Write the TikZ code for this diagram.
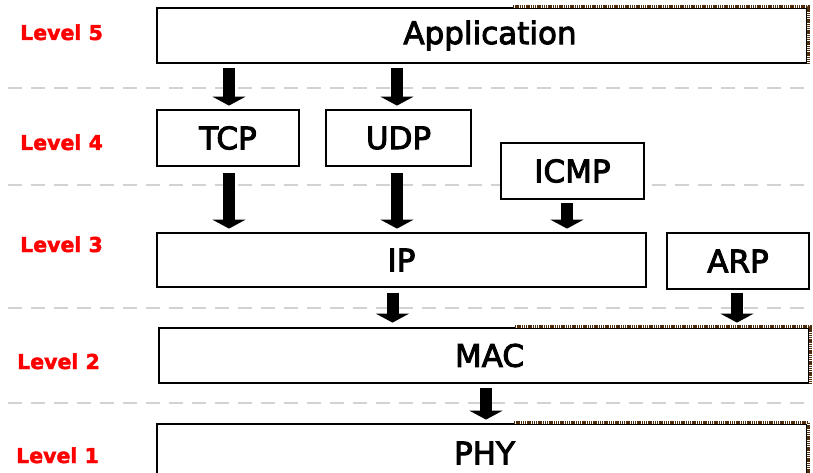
\documentclass[tikz,border=0pt]{standalone}
\usepackage{fontspec}
\usetikzlibrary{arrows.meta}
\newfontfamily\boxfont[FakeBold=3]{DejaVu Sans}
\newfontfamily\lvlfont[FakeBold=2]{DejaVu Sans Bold}
\definecolor{lvlred}{RGB}{255,0,0}
\definecolor{sepgray}{RGB}{210,210,210}
\definecolor{edgebrown}{RGB}{80,45,10}
\tikzset{
  layerbox/.style={draw=black, line width=2.8pt, fill=white, inner sep=0pt,
    font=\boxfont\fontsize{31}{36}\selectfont},
  lvl/.style={anchor=base west, inner sep=0pt, text=lvlred,
    font=\lvlfont\fontsize{20.5}{24}\selectfont},
  sepline/.style={draw=sepgray, line width=1.5pt, dash pattern=on 14pt off 9pt},
  bigarrow/.style={line width=12pt, -{Triangle[width=33pt,length=9pt]},
    shorten <=4pt, shorten >=3pt},
  brownedge/.style={draw=edgebrown, line width=2.4pt, dash pattern=on 1.4pt off 0.8pt},
  eraseedge/.style={draw=white, line width=3.2pt},
}
\begin{document}
\begin{tikzpicture}[x=1pt, y=-1pt]
\useasboundingbox (0,0) rectangle (813,473);

% dashed level separators
\draw[sepline] (8,88) -- (813,88);
\draw[sepline] (8,185) -- (813,185);
\draw[sepline] (8,308) -- (813,308);
\draw[sepline] (8,403) -- (813,403);

% level labels
\node[lvl] (lvl5) at (20,40)  {Level 5};
\node[lvl] (lvl4) at (20,150) {Level 4};
\node[lvl] (lvl3) at (20,252) {Level 3};
\node[lvl] (lvl2) at (17,369) {Level 2};
\node[lvl] (lvl1) at (16,463) {Level 1};

% protocol boxes
\node[layerbox, minimum width=650pt, minimum height=55pt] (app) at (482,35.5) {\hspace*{16pt}Application};
\node[layerbox, minimum width=142pt, minimum height=56pt] (tcp) at (228,138) {TCP};
\node[layerbox, minimum width=145pt, minimum height=56pt] (udp) at (398.5,138) {UDP};
\node[layerbox, minimum width=143pt, minimum height=56pt] (icmp) at (572.5,171) {ICMP};
\node[layerbox, minimum width=489pt, minimum height=54pt] (ip) at (401.5,260) {IP};
\node[layerbox, minimum width=142pt, minimum height=56pt] (arp) at (738,261) {ARP};
\node[layerbox, minimum width=650pt, minimum height=55pt] (mac) at (484,355.5) {\hspace*{11pt}MAC};
\node[layerbox, minimum width=650pt, minimum height=58pt] (phy) at (482,453) {\hspace*{5pt}PHY};

% dotted brown right-hand edges
\foreach \b/\s in {app/31pt, mac/31pt, phy/32pt}{
  \draw[eraseedge] ([xshift=\s]\b.north) -- (\b.north east) -- (\b.south east);
  \draw[brownedge] ([xshift=\s]\b.north) -- (\b.north east) -- (\b.south east);
}

% data flow arrows
\draw[bigarrow] ([xshift=1pt]app.south -| tcp.center) -- ([xshift=1pt]tcp.north);
\draw[bigarrow] ([xshift=-1.5pt]app.south -| udp.center) -- ([xshift=-1.5pt]udp.north);
\draw[bigarrow, shorten <=6pt] ([xshift=1pt]tcp.south) -- ([xshift=1pt]tcp.south |- ip.north);
\draw[bigarrow, shorten <=6pt] ([xshift=-1.5pt]udp.south) -- ([xshift=-1.5pt]udp.south |- ip.north);
\draw[bigarrow, shorten <=3pt] ([xshift=-5.5pt]icmp.south) -- ([xshift=-5.5pt]icmp.south |- ip.north);
\draw[bigarrow, shorten <=5pt, shorten >=4pt] ([xshift=-9pt]ip.south) -- ([xshift=-9pt]ip.south |- mac.north);
\draw[bigarrow, shorten <=3pt, shorten >=4pt] ([xshift=-1pt]arp.south) -- ([xshift=-1pt]arp.south |- mac.north);
\draw[bigarrow] ([xshift=2pt]mac.south) -- ([xshift=2pt]mac.south |- phy.north);
\end{tikzpicture}
\end{document}
